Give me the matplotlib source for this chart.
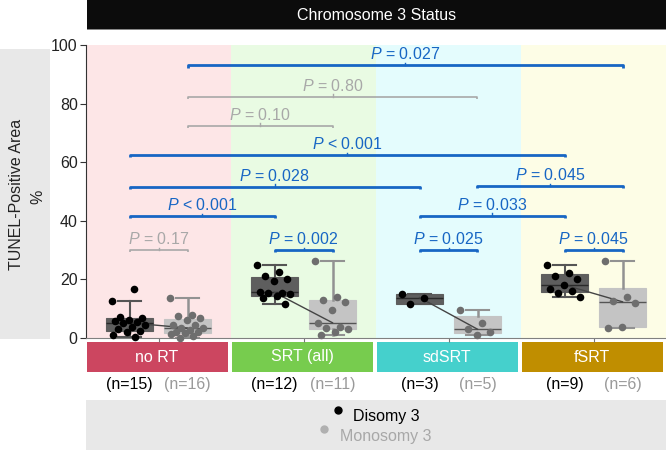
import numpy as np
import matplotlib
matplotlib.use("Agg")
import matplotlib.pyplot as plt
from matplotlib.patches import Rectangle
from matplotlib.lines import Line2D
import matplotlib.transforms as mtransforms

plt.rcParams['font.family'] = ['Liberation Sans', 'DejaVu Sans']
plt.rcParams['mathtext.fontset'] = 'custom'
plt.rcParams['mathtext.rm'] = 'Liberation Sans'
plt.rcParams['mathtext.it'] = 'Liberation Sans:italic'

# ---- data (TUNEL-positive area %) ----
groups = ["no RT", "SRT (all)", "sdSRT", "fSRT"]
disomy = [
    [12.7, 16.6, 7.3, 6.9, 6.3, 5.8, 5.4, 5.2, 4.5, 3.9, 3.0, 2.3, 2.0, 0.9, 0.3],
    [24.9, 22.4, 21.2, 20.1, 19.5, 15.6, 15.5, 15.3, 15.0, 14.2, 13.8, 11.5],
    [14.9, 13.8, 11.5],
    [24.9, 22.2, 21.2, 20.3, 18.1, 16.8, 15.9, 15.3, 14.0],
]
monosomy = [
    [13.8, 7.7, 7.6, 6.8, 6.0, 4.4, 4.3, 3.5, 3.3, 2.7, 2.2, 1.9, 1.6, 1.4, 0.7, 0.1],
    [26.3, 13.9, 12.9, 12.3, 9.5, 5.2, 3.9, 3.3, 3.0, 2.2, 1.0],
    [9.6, 5.2, 3.0, 2.2, 1.0],
    [26.3, 13.9, 12.7, 12.0, 3.9, 3.3],
]
# comparisons: (box a, box b, height, p text); box index = 2*group + (0 disomy, 1 monosomy)
comparisons = [
    (0, 1, 30.0, "= 0.17", False),
    (2, 3, 30.0, "= 0.002", True),
    (4, 5, 30.0, "= 0.025", True),
    (6, 7, 30.0, "= 0.045", True),
    (0, 2, 41.6, "< 0.001", True),
    (4, 6, 41.7, "= 0.033", True),
    (0, 4, 51.6, "= 0.028", True),
    (5, 7, 51.9, "= 0.045", True),
    (0, 6, 62.5, "< 0.001", True),
    (1, 3, 72.5, "= 0.10", False),
    (1, 5, 82.4, "= 0.80", False),
    (1, 7, 93.1, "= 0.027", True),
]

bg_colors = ["#fde6e7", "#e9fbe3", "#e4fcfd", "#fdfde6"]
cat_colors = ["#cc4660", "#77cc4e", "#45d0cc", "#c08e00"]
blue = "#1766c4"
light = "#a8a8a8"

W, H = 666, 450
fig = plt.figure(figsize=(W / 100, H / 100), dpi=100)
ax = fig.add_axes([86 / W, (H - 338) / H, (W - 86) / W, 293 / H])

def box_pos(k):
    return k // 2 + 0.3 + 0.4 * (k % 2)

def stats(v):
    v = np.asarray(v)
    q1, med, q3 = np.percentile(v, [25, 50, 75], method='weibull')
    iqr = q3 - q1
    lo = v[v >= q1 - 1.5 * iqr].min()
    hi = v[v <= q3 + 1.5 * iqr].max()
    return dict(q1=q1, med=med, q3=q3, whislo=lo, whishi=hi, fliers=[])

for i in range(4):
    ax.axvspan(i, i + 1, color=bg_colors[i], lw=0, zorder=0)

for i in range(4):
    pd_, pm_ = i + 0.3, i + 0.7
    sd_, sm_ = stats(disomy[i]), stats(monosomy[i])
    ax.bxp([sd_], positions=[pd_], widths=0.32, patch_artist=True, capwidths=0.16,
           boxprops=dict(facecolor="#5e5e5e", edgecolor="#5e5e5e", lw=0.8),
           medianprops=dict(color="#2a2a2a", lw=1),
           whiskerprops=dict(color="#555555", lw=1.5),
           capprops=dict(color="#555555", lw=1.5), manage_ticks=False, zorder=2)
    ax.bxp([sm_], positions=[pm_], widths=0.32, patch_artist=True, capwidths=0.16,
           boxprops=dict(facecolor="#c4c4c4", edgecolor="#c4c4c4", lw=0.8),
           medianprops=dict(color="#555555", lw=1),
           whiskerprops=dict(color="#929292", lw=1.8),
           capprops=dict(color="#929292", lw=1.5), manage_ticks=False, zorder=2)
    ax.plot([pd_, pm_], [sd_['med'], sm_['med']], color="#444444", lw=1, zorder=3)
    for vals, pos, col in [(disomy[i], pd_, "black"), (monosomy[i], pm_, "#6e6e6e")]:
        n = len(vals)
        jit = ((np.arange(n) * 0.618034) % 1 - 0.5) * 0.24
        ax.scatter(pos + jit, vals, s=30, color=col, zorder=4, clip_on=False, lw=0)

for a, b, y, txt, sig in comparisons:
    x1, x2 = box_pos(a), box_pos(b)
    col = blue if sig else light
    lw = 2 if sig else 1.2
    ax.plot([x1, x1, x2, x2], [y - 0.8, y, y, y - 0.8], color=col, lw=lw,
            solid_capstyle='butt', zorder=5)
    xm = (x1 + x2) / 2
    ax.plot([xm, xm], [y, y + 0.8], color=col, lw=1, zorder=5)
    ax.text(xm, y + 1.0, "$P$ " + txt, color=col, fontsize=11.5,
            ha='center', va='bottom', zorder=6)

ax.set_xlim(0, 4)
ax.set_ylim(0, 100)
ax.set_yticks([0, 20, 40, 60, 80, 100])
ax.set_xticks([0.5, 1.5, 2.5, 3.5])
ax.set_xticklabels([])
ax.tick_params(axis='y', labelsize=11.5, length=4, color="#333333", labelcolor="#222222", pad=2)
ax.tick_params(axis='x', length=3, color="#777777")
for s in ["top", "right"]:
    ax.spines[s].set_visible(False)
ax.spines["left"].set_color("#333333")
ax.spines["bottom"].set_color("#808080")

# category boxes and n labels below the axis
trans = mtransforms.blended_transform_factory(ax.transData, fig.transFigure)
for i in range(4):
    ax.add_patch(Rectangle((i + 0.005, (H - 372) / H), 0.975, 30 / H, transform=trans,
                           facecolor=cat_colors[i], edgecolor="none", clip_on=False))
    ax.text(i + 0.49, (H - 357) / H, groups[i], transform=trans, color="white",
            fontsize=11.5, ha='center', va='center')
    ax.text(i + 0.3, (H - 384) / H, "(n=%d)" % len(disomy[i]), transform=trans,
            color="black", fontsize=11.5, ha='center', va='center')
    ax.text(i + 0.7, (H - 384) / H, "(n=%d)" % len(monosomy[i]), transform=trans,
            color="#9a9a9a", fontsize=11.5, ha='center', va='center')

# header bar
fig.patches.append(Rectangle((87 / W, 1 - 29 / H), (W - 87) / W, 29 / H,
                             transform=fig.transFigure, facecolor="#0c0c0c",
                             edgecolor="none"))
fig.patches.append(Rectangle((87 / W, 1 - 30 / H), (W - 87) / W, 1.2 / H,
                             transform=fig.transFigure, facecolor="#888888",
                             edgecolor="none"))
fig.text((87 + W) / 2 / W, 1 - 15 / H, "Chromosome 3 Status", color="white",
         fontsize=11.5, ha='center', va='center')

# y label box
fig.patches.append(Rectangle((0, 1 - 339 / H), 50 / W, 290 / H,
                             transform=fig.transFigure, facecolor="#e8e8e8",
                             edgecolor="none", zorder=0))
fig.text(17 / W, 1 - 194 / H, "TUNEL-Positive Area", rotation=90, fontsize=11.5,
         ha='center', va='center', color="#222222")
fig.text(38 / W, 1 - 197 / H, "%", rotation=90, fontsize=11.5,
         ha='center', va='center', color="#222222")

# legend box
fig.patches.append(Rectangle((86 / W, 0), (W - 86) / W, 50 / H,
                             transform=fig.transFigure, facecolor="#e8e8e8",
                             edgecolor="none", zorder=0))
fig.add_artist(Line2D([338 / W], [1 - 410 / H], marker='o', markersize=5,
                      color="black", lw=0, transform=fig.transFigure))
fig.text(353 / W, 1 - 417 / H, "Disomy 3", color="black", fontsize=11.5, ha='left', va='center')
fig.add_artist(Line2D([324 / W], [1 - 429 / H], marker='o', markersize=5,
                      color="#b0b0b0", lw=0, transform=fig.transFigure))
fig.text(340 / W, 1 - 436 / H, "Monosomy 3", color="#a8a8a8", fontsize=11.5, ha='left', va='center')

fig.savefig("out.png", dpi=100)
